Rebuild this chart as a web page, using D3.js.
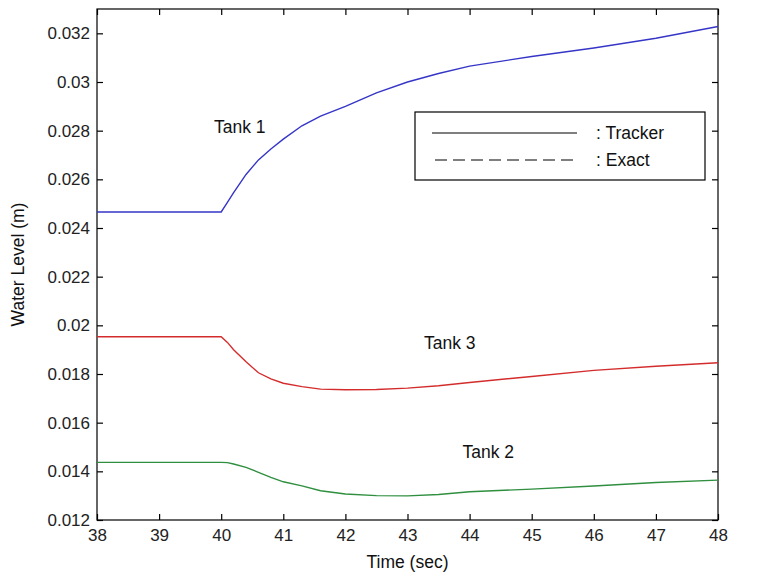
<!DOCTYPE html>
<html><head><meta charset="utf-8">
<script src="https://cdn.jsdelivr.net/npm/d3@7"></script>
<style>
html,body{margin:0;padding:0;background:#fff;}
svg{display:block;font-family:"Liberation Sans",Arial,sans-serif;}
</style></head>
<body><svg id="c" width="760" height="578"></svg>
<script>
const time  = [38, 40, 40.1, 40.2, 40.4, 40.6, 40.8, 41, 41.3, 41.6, 42, 42.5, 43, 43.5, 44, 45, 46, 47, 48];
const tank1 = [0.02466,0.02466,0.02505,0.02545,0.0262,0.0268,0.02725,0.02765,0.0282,0.0286,0.0290,0.02955,0.0300,0.03035,0.03065,0.03105,0.0314,0.0318,0.03228];
const tank3 = [0.01953,0.01953,0.0193,0.0190,0.0185,0.01805,0.0178,0.01762,0.01748,0.01738,0.01735,0.01736,0.01742,0.01752,0.01765,0.0179,0.01815,0.01832,0.01846];
const tank2 = [0.01437,0.01437,0.01436,0.0143,0.01416,0.01396,0.01375,0.01357,0.0134,0.0132,0.01307,0.01300,0.01299,0.01305,0.01316,0.01327,0.0134,0.01354,0.01364];
const xTicks = [38,39,40,41,42,43,44,45,46,47,48];
const yTicks = [0.012,0.014,0.016,0.018,0.02,0.022,0.024,0.026,0.028,0.03,0.032];
const yTickLabels = ["0.012","0.014","0.016","0.018","0.02","0.022","0.024","0.026","0.028","0.03","0.032"];
const seriesNames = ["Tank 1","Tank 3","Tank 2"];
const legendLabels = [": Tracker", ": Exact"];

const svg = d3.select("#c");
const L=97, R=718, T=9, B=520;
const x = d3.scaleLinear().domain([38,48]).range([L,R]);
const y = d3.scaleLinear().domain([0.012,0.033]).range([B,T]);
const FS=17, FL=17.5;

svg.append("rect").attr("x",L).attr("y",T).attr("width",R-L).attr("height",B-T)
  .attr("fill","none").attr("stroke","#000").attr("stroke-width",1.2);

const tk=6;
const xb = svg.append("g").attr("transform",`translate(0,${B})`)
  .call(d3.axisBottom(x).tickValues(xTicks).tickSizeInner(-tk).tickSizeOuter(0).tickPadding(9).tickFormat(d3.format("d")));
const xt = svg.append("g").attr("transform",`translate(0,${T})`)
  .call(d3.axisTop(x).tickValues(xTicks).tickSizeInner(-tk).tickSizeOuter(0).tickFormat(""));
const yl = svg.append("g").attr("transform",`translate(${L},0)`)
  .call(d3.axisLeft(y).tickValues(yTicks).tickSizeInner(-tk).tickSizeOuter(0).tickPadding(7).tickFormat((d,i)=>yTickLabels[i]));
const yr = svg.append("g").attr("transform",`translate(${R},0)`)
  .call(d3.axisRight(y).tickValues(yTicks).tickSizeInner(-tk).tickSizeOuter(0).tickFormat(""));
[xb,xt,yl,yr].forEach(g=>{
  g.select(".domain").remove();
  g.selectAll("line").attr("stroke","#000").attr("stroke-width",1.2);
  g.selectAll("text").attr("font-size",FS).attr("fill","#222").attr("font-family","'Liberation Sans',Arial,sans-serif");
});
xb.selectAll("text").attr("dy","0.72em");

const line = d3.line().x(d=>x(d[0])).y(d=>y(d[1]));
const series = [
  {vals:tank1,color:"#3535c8"},
  {vals:tank3,color:"#d42c2c"},
  {vals:tank2,color:"#2f8f3f"}
];
series.forEach(s=>{
  svg.append("path").datum(time.map((t,i)=>[t,s.vals[i]]))
    .attr("d",line).attr("fill","none").attr("stroke",s.color).attr("stroke-width",1.4);
});

const ann = [{t:seriesNames[0],x:40.3,y:0.0279},{t:seriesNames[1],x:43.68,y:0.01904},{t:seriesNames[2],x:44.3,y:0.01453}];
ann.forEach(a=>{
  svg.append("text").attr("x",x(a.x)).attr("y",y(a.y)).attr("text-anchor","middle")
    .attr("font-size",FL).attr("fill","#111").text(a.t);
});

svg.append("rect").attr("x",415).attr("y",112).attr("width",290).attr("height",68)
  .attr("fill","#fff").attr("stroke","#000").attr("stroke-width",1.2);
svg.append("line").attr("x1",432).attr("x2",577).attr("y1",133).attr("y2",133)
  .attr("stroke","#000").attr("stroke-width",1.2);
svg.append("line").attr("x1",435).attr("x2",577).attr("y1",160).attr("y2",160)
  .attr("stroke","#000").attr("stroke-width",1.2).attr("stroke-dasharray","12,6");
legendLabels.forEach((t,i)=>{
  svg.append("text").attr("x",596).attr("y",133+i*27).attr("dy","0.35em")
    .attr("font-size",FL).attr("fill","#111").text(t);
});

svg.append("text").attr("x",(L+R)/2).attr("y",568).attr("text-anchor","middle")
  .attr("font-size",FL).attr("fill","#111").text("Time (sec)");
svg.append("text").attr("transform",`translate(24,${(T+B)/2}) rotate(-90)`).attr("text-anchor","middle")
  .attr("font-size",FL).attr("fill","#111").text("Water Level (m)");
</script></body></html>
